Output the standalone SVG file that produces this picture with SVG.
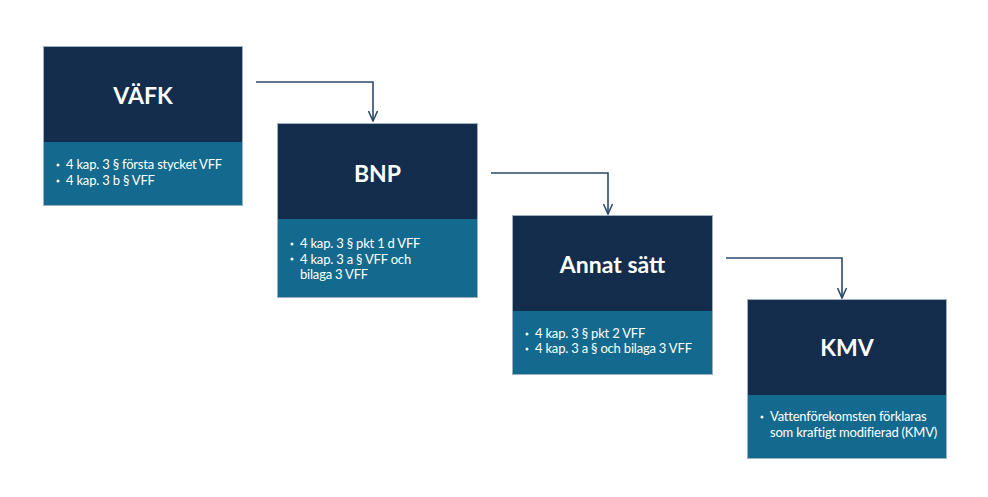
<svg xmlns="http://www.w3.org/2000/svg" width="988" height="497" viewBox="0 0 988 497">
  <style>
    .bg { fill: #ffffff; }
    .head { fill: #142d4c; }
    .body { fill: #136a8e; }
    .frame { fill: none; stroke: #9fb0c0; stroke-width: 1; }
    .title { font-family: Lato, Inter, "Noto Sans", "Liberation Sans", sans-serif; font-weight: 700; font-size: 23px; fill: #ffffff; text-anchor: middle; }
    .item { font-family: Lato, Inter, "Noto Sans", "Liberation Sans", sans-serif; font-size: 13px; letter-spacing: -0.2px; fill: #ffffff; }
    .bullet { fill: #ffffff; }
    .conn { fill: none; stroke: #2c4a6b; stroke-width: 1.6; }
  </style>
  <defs>
    <marker id="arrow" viewBox="0 0 12 10" refX="11" refY="5" markerWidth="12" markerHeight="10" markerUnits="userSpaceOnUse" orient="auto">
      <path d="M1,0.5 L11,5 L1,9.5" fill="none" stroke="#2c4a6b" stroke-width="1.6"/>
    </marker>
  </defs>
  <rect class="bg" x="0" y="0" width="988" height="497"/>

  <g id="connectors">
    <path class="conn" d="M256,82 H373 V121" marker-end="url(#arrow)"/>
    <path class="conn" d="M491,173 H608 V214" marker-end="url(#arrow)"/>
    <path class="conn" d="M726,258 H842 V298" marker-end="url(#arrow)"/>
  </g>

  <g id="node-vafk">
    <rect class="head" x="43" y="46" width="200" height="96"/>
    <rect class="body" x="43" y="142" width="200" height="64"/>
    <rect class="frame" x="43.5" y="46.5" width="199" height="159"/>
    <text class="title" x="143" y="104">VÄFK</text>
    <circle class="bullet" cx="58" cy="165" r="1.5"/>
    <circle class="bullet" cx="58" cy="181" r="1.5"/>
    <text class="item" x="66" y="169">4 kap. 3 § första stycket VFF</text>
    <text class="item" x="66" y="185">4 kap. 3 b § VFF</text>
  </g>

  <g id="node-bnp">
    <rect class="head" x="277" y="123" width="201" height="96"/>
    <rect class="body" x="277" y="219" width="201" height="79"/>
    <rect class="frame" x="277.5" y="123.5" width="200" height="174"/>
    <text class="title" x="377.5" y="182">BNP</text>
    <circle class="bullet" cx="292" cy="244" r="1.5"/>
    <circle class="bullet" cx="292" cy="259" r="1.5"/>
    <text class="item" x="300" y="248">4 kap. 3 § pkt 1 d VFF</text>
    <text class="item" x="300" y="263.5">4 kap. 3 a § VFF och</text>
    <text class="item" x="300" y="279">bilaga 3 VFF</text>
  </g>

  <g id="node-annat">
    <rect class="head" x="512" y="215" width="201" height="96"/>
    <rect class="body" x="512" y="311" width="201" height="64"/>
    <rect class="frame" x="512.5" y="215.5" width="200" height="159"/>
    <text class="title" x="612.5" y="273">Annat sätt</text>
    <circle class="bullet" cx="527" cy="334" r="1.5"/>
    <circle class="bullet" cx="527" cy="349" r="1.5"/>
    <text class="item" x="535" y="338">4 kap. 3 § pkt 2 VFF</text>
    <text class="item" x="535" y="353">4 kap. 3 a § och bilaga 3 VFF</text>
  </g>

  <g id="node-kmv">
    <rect class="head" x="747" y="299" width="200" height="96"/>
    <rect class="body" x="747" y="395" width="200" height="64"/>
    <rect class="frame" x="747.5" y="299.5" width="199" height="159"/>
    <text class="title" x="847" y="356">KMV</text>
    <circle class="bullet" cx="762" cy="417" r="1.5"/>
    <text class="item" x="770" y="421">Vattenförekomsten förklaras</text>
    <text class="item" x="770" y="437">som kraftigt modifierad (KMV)</text>
  </g>
</svg>
